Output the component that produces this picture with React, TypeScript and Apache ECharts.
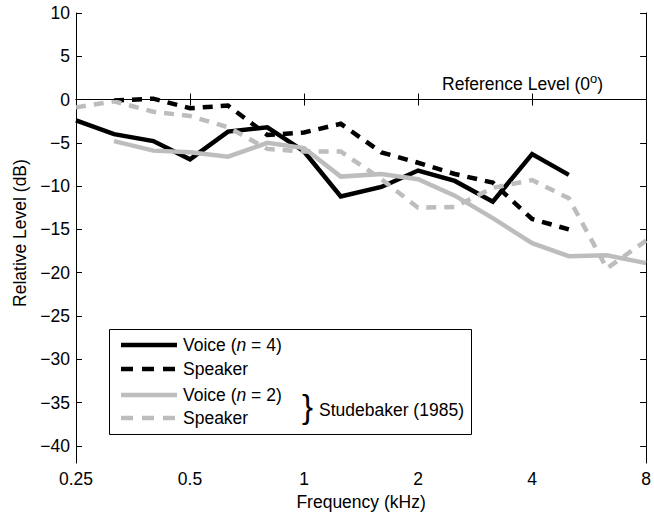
import React, { useEffect, useRef } from "react";
import * as echarts from "echarts";

// 1/3-octave frequencies (kHz)
const freqs = [0.25, 0.315, 0.4, 0.5, 0.63, 0.8, 1, 1.25, 1.6, 2, 2.5, 3.15, 4, 5, 6.3, 8];

// Voice (n = 4), from 0.25 kHz
const voiceN4 = [-2.4, -4.0, -4.8, -6.9, -3.7, -3.2, -6.0, -11.2, -10.1, -8.2, -9.4, -11.8, -6.3, -8.7];
// Speaker, from 0.315 kHz
const speakerN4 = [-0.1, 0.1, -1.0, -0.7, -4.1, -3.8, -2.8, -6.1, -7.3, -8.6, -9.6, -13.8, -15.0];
// Voice (n = 2) Studebaker (1985), from 0.315 kHz
const voiceStudebaker = [-4.8, -5.9, -6.1, -6.6, -5.0, -5.6, -8.9, -8.6, -9.2, -11.1, -13.7, -16.6, -18.1, -18.0, -18.9];
// Speaker Studebaker (1985), from 0.25 kHz
const speakerStudebaker = [-0.9, -0.2, -1.4, -1.9, -3.2, -5.7, -6.0, -6.0, -9.2, -12.5, -12.4, -10.2, -9.3, -11.4, -19.5, -16.3];

const yTicks = [-40, -35, -30, -25, -20, -15, -10, -5, 0, 5, 10];

const legendLabels = ["Voice ({i|n} = 4)", "Speaker", "Voice ({i|n} = 2)", "Speaker"];
const groupLabel = "Studebaker (1985)";
const refLabel = "Reference Level (0{s|o})";

const FONT = "'Liberation Sans', Arial, Helvetica, sans-serif";
const FS = 17.5;
const BLACK = "#000000";
const GRAY = "#bdbdbd";
const DASH = [10, 8];

function pairs(start: number, vals: number[]) {
  return vals.map((v, i) => [freqs[start + i], v]);
}

function fmtX(v: number) {
  const r = Math.round(v * 100) / 100;
  return [0.25, 0.5, 1, 2, 4, 8].indexOf(r) >= 0 ? String(r) : "";
}

function fmtY(v: number) {
  return v < 0 ? "\u2212" + String(-v) : String(v);
}

export default function App() {
  const ref = useRef<HTMLDivElement>(null);
  useEffect(() => {
    if (!ref.current) return;
    const chart = echarts.init(ref.current, undefined, { renderer: "svg" });

    const axisCommonX = {
      type: "log" as const,
      logBase: 2,
      min: 0.25,
      max: 8,
      axisLine: { show: true, lineStyle: { color: BLACK, width: 1 } },
      axisTick: { show: true, inside: true, length: 6, lineStyle: { color: BLACK } },
      minorTick: { show: false },
      splitLine: { show: false },
    };
    const axisCommonY = {
      type: "value" as const,
      min: -42,
      max: 10,
      axisLine: { show: true, lineStyle: { color: BLACK, width: 1 } },
      axisTick: { show: true, inside: true, length: 6, lineStyle: { color: BLACK }, customValues: yTicks },
      splitLine: { show: false },
    };

    const legendRows = [
      { y: 345, color: BLACK, dash: null },
      { y: 369, color: BLACK, dash: [12, 9] },
      { y: 395, color: GRAY, dash: null },
      { y: 418, color: GRAY, dash: [12, 9] },
    ];

    const graphic: any[] = [
      {
        type: "rect",
        z: 100,
        shape: { x: 109.5, y: 329.5, width: 362, height: 105 },
        style: { fill: "#ffffff", stroke: BLACK, lineWidth: 1 },
      },
      {
        type: "text",
        z: 101,
        x: 603,
        y: 84,
        style: {
          text: refLabel,
          fill: BLACK,
          fontFamily: FONT,
          fontSize: FS,
          align: "right",
          verticalAlign: "middle",
          lineHeight: 24,
          rich: { s: { fontSize: 13, fontFamily: FONT, fill: BLACK, verticalAlign: "top", lineHeight: 10 } },
        },
      },
      {
        type: "text",
        z: 101,
        x: 302,
        y: 406,
        style: { text: "}", fill: BLACK, fontFamily: FONT, fontSize: 33, verticalAlign: "middle" },
      },
      {
        type: "text",
        z: 101,
        x: 319,
        y: 410,
        style: { text: groupLabel, fill: BLACK, fontFamily: FONT, fontSize: FS, verticalAlign: "middle" },
      },
    ];
    legendRows.forEach((r, i) => {
      graphic.push({
        type: "line",
        z: 101,
        shape: { x1: 121, y1: r.y, x2: 177, y2: r.y },
        style: { stroke: r.color, lineWidth: 4.5, lineDash: r.dash || undefined, lineCap: "butt" },
      });
      graphic.push({
        type: "text",
        z: 101,
        x: 183,
        y: r.y,
        style: {
          text: legendLabels[i],
          fill: BLACK,
          fontFamily: FONT,
          fontSize: FS,
          verticalAlign: "middle",
          rich: { i: { fontStyle: "italic", fontFamily: FONT, fontSize: FS, fill: BLACK } },
        },
      });
    });

    const lineSeries = (name: string, data: number[][], color: string, dashed: boolean) => ({
      name,
      type: "line" as const,
      data,
      xAxisIndex: 0,
      yAxisIndex: 0,
      symbol: "none",
      showSymbol: false,
      lineStyle: { color, width: 4.5, type: dashed ? DASH : "solid", cap: "butt", join: "miter" },
      silent: true,
    });

    chart.setOption({
      animation: false,
      textStyle: { fontFamily: FONT },
      grid: { left: 76, right: 1, top: 13, bottom: 49, containLabel: false },
      xAxis: [
        {
          ...axisCommonX,
          position: "bottom",
          axisLabel: { show: true, color: BLACK, fontSize: FS, fontFamily: FONT, margin: 7, formatter: (v: number) => fmtX(v) },
          name: "Frequency (kHz)",
          nameLocation: "middle",
          nameGap: 28,
          nameTextStyle: { color: BLACK, fontSize: FS, fontFamily: FONT },
        },
        {
          ...axisCommonX,
          position: "top",
          axisLabel: { show: false },
        },
      ],
      yAxis: [
        {
          ...axisCommonY,
          position: "left",
          axisLabel: { show: true, color: BLACK, fontSize: FS, fontFamily: FONT, margin: 6, customValues: yTicks, formatter: (v: number) => fmtY(v) },
          name: "Relative Level (dB)",
          nameLocation: "middle",
          nameGap: 40,
          nameRotate: 90,
          nameTextStyle: { color: BLACK, fontSize: FS, fontFamily: FONT, padding: [0, 0, 0, 10] },
        },
        {
          ...axisCommonY,
          position: "right",
          axisLabel: { show: false },
        },
      ],
      graphic,
      series: [
        {
          ...lineSeries("Voice (n = 4)", pairs(0, voiceN4), BLACK, false),
          markLine: {
            silent: true,
            symbol: ["none", "none"],
            label: { show: false },
            lineStyle: { color: BLACK, width: 1, type: "solid" },
            data: [{ yAxis: 0 }],
          },
        },
        lineSeries("Speaker", pairs(1, speakerN4), BLACK, true),
        lineSeries("Voice (n = 2)", pairs(1, voiceStudebaker), GRAY, false),
        lineSeries("Speaker (Studebaker)", pairs(0, speakerStudebaker), GRAY, true),
      ],
    });
    return () => chart.dispose();
  }, []);
  return <div ref={ref} style={{ position: "fixed", left: 0, top: 0, width: 654, height: 516, background: "#fff" }} />;
}
